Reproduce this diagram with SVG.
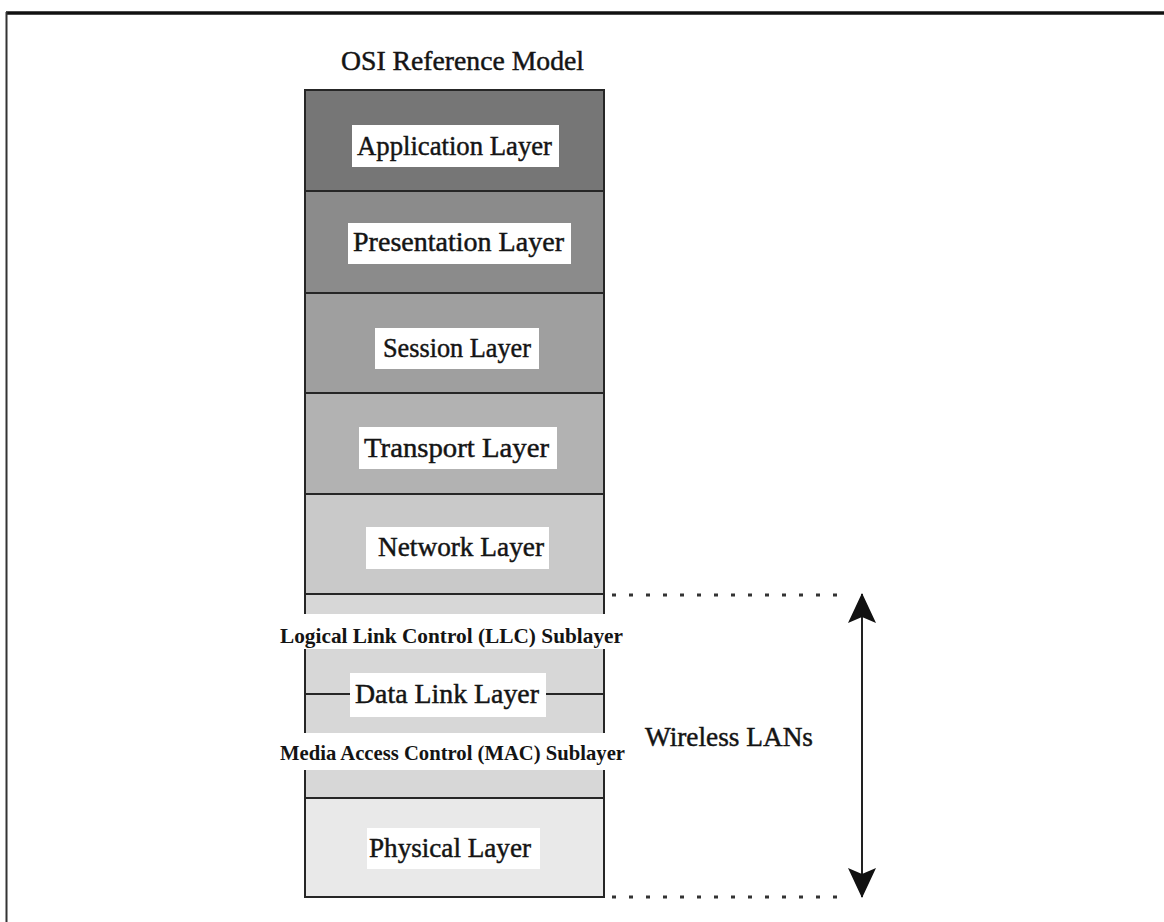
<svg xmlns="http://www.w3.org/2000/svg" width="1164" height="922" viewBox="0 0 1164 922">
  <style>
    .layer { stroke: #262626; stroke-width: 2; }
    .tag { fill: #ffffff; }
    .lbl { font-family: "Liberation Serif", "Times New Roman", serif; font-size: 27px; fill: #141414; stroke: #141414; stroke-width: 0.45; }
    .sub { font-family: "Liberation Serif", "Times New Roman", serif; font-size: 21px; font-weight: bold; fill: #141414; }
    .edge { stroke: #262626; stroke-width: 2; fill: none; }
    .dots { stroke: #333333; stroke-width: 3; stroke-dasharray: 4 13; fill: none; }
  </style>
  <defs>
    <marker id="head" viewBox="0 0 30 28" refX="29" refY="14" markerWidth="30" markerHeight="28" markerUnits="userSpaceOnUse" orient="auto-start-reverse">
      <path d="M0,0 L30,14 L0,28 L6,14 Z" fill="#111111"/>
    </marker>
  </defs>

  <rect width="1164" height="922" fill="#ffffff"/>

  <!-- outer frame -->
  <g id="frame">
    <line x1="6" y1="13" x2="1164" y2="13" stroke="#111111" stroke-width="3.5"/>
    <line x1="6.5" y1="12" x2="6.5" y2="922" stroke="#333333" stroke-width="2"/>
  </g>

  <text id="title" x="341" y="70" class="lbl" font-size="25" stroke-width="0.2" textLength="243" lengthAdjust="spacingAndGlyphs">OSI Reference Model</text>

  <g id="application">
    <rect x="305" y="90" width="299" height="101" fill="#767676" class="layer"/>
    <rect x="352" y="125" width="207" height="42" class="tag"/>
    <text x="357" y="155" class="lbl" textLength="195" lengthAdjust="spacingAndGlyphs">Application Layer</text>
  </g>

  <g id="presentation">
    <rect x="305" y="191" width="299" height="102" fill="#8b8b8b" class="layer"/>
    <rect x="348" y="223" width="223" height="41" class="tag"/>
    <text x="353" y="251" class="lbl" textLength="211" lengthAdjust="spacingAndGlyphs">Presentation Layer</text>
  </g>

  <g id="session">
    <rect x="305" y="293" width="299" height="100" fill="#9f9f9f" class="layer"/>
    <rect x="375" y="328" width="164" height="41" class="tag"/>
    <text x="383" y="357" class="lbl" textLength="148" lengthAdjust="spacingAndGlyphs">Session Layer</text>
  </g>

  <g id="transport">
    <rect x="305" y="393" width="299" height="101" fill="#b2b2b2" class="layer"/>
    <rect x="359" y="427" width="198" height="42" class="tag"/>
    <text x="364" y="457" class="lbl" textLength="185" lengthAdjust="spacingAndGlyphs">Transport Layer</text>
  </g>

  <g id="network">
    <rect x="305" y="494" width="299" height="100" fill="#c9c9c9" class="layer"/>
    <rect x="366" y="527" width="183" height="42" class="tag"/>
    <text x="378" y="556" class="lbl" textLength="166" lengthAdjust="spacingAndGlyphs">Network Layer</text>
  </g>

  <g id="datalink">
    <rect x="305" y="594" width="299" height="204" fill="#d7d7d7" class="layer"/>
    <rect x="278" y="614" width="354" height="35" class="tag"/>
    <text x="280" y="643" class="sub" textLength="343" lengthAdjust="spacingAndGlyphs">Logical Link Control (LLC) Sublayer</text>
    <line x1="305" y1="694" x2="350" y2="694" class="edge"/>
    <line x1="546" y1="694" x2="604" y2="694" class="edge"/>
    <rect x="350" y="673" width="196" height="44" class="tag"/>
    <text x="355" y="703" class="lbl" stroke-width="0.2" textLength="184" lengthAdjust="spacingAndGlyphs">Data Link Layer</text>
    <rect x="276" y="733" width="358" height="37" class="tag"/>
    <text x="280" y="760" class="sub" textLength="345" lengthAdjust="spacingAndGlyphs">Media Access Control (MAC) Sublayer</text>
  </g>

  <g id="physical">
    <rect x="305" y="798" width="299" height="99" fill="#e9e9e9" class="layer"/>
    <rect x="367" y="828" width="173" height="41" class="tag"/>
    <text x="369" y="857" class="lbl" textLength="162" lengthAdjust="spacingAndGlyphs">Physical Layer</text>
  </g>

  <!-- span brackets and arrow marking the wireless LAN scope -->
  <g id="connectors">
    <line x1="612" y1="595" x2="845" y2="595" class="dots"/>
    <line x1="612" y1="897" x2="845" y2="897" class="dots"/>
    <line x1="862" y1="594" x2="862" y2="897" stroke="#222222" stroke-width="2" marker-start="url(#head)" marker-end="url(#head)"/>
  </g>

  <text id="wireless" x="645" y="746" class="lbl" font-size="27" stroke-width="0.2" textLength="168" lengthAdjust="spacingAndGlyphs">Wireless LANs</text>
</svg>
